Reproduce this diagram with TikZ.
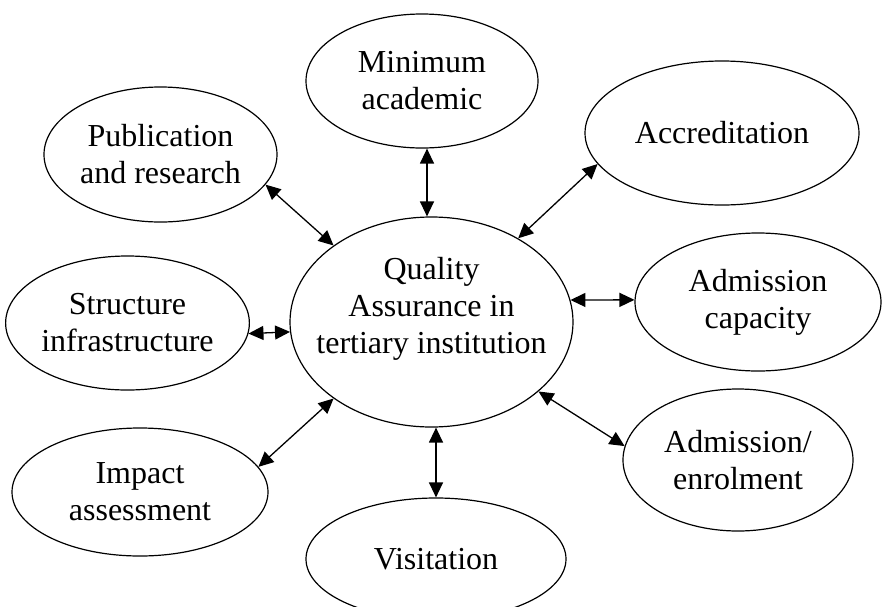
\documentclass[tikz,border=0pt]{standalone}
\usepackage{fontspec}
\setmainfont{Liberation Serif}
\usetikzlibrary{shapes.geometric,arrows.meta}
\tikzset{
  bubble/.style={ellipse, draw, line width=1.2pt, inner sep=0pt, align=center,
    font=\fontsize{32}{37}\selectfont},
  arr/.style={line width=1.3pt, {Triangle[length=15pt,width=14pt]}-{Triangle[length=15pt,width=14pt]}}
}
\begin{document}
\begin{tikzpicture}[x=1pt,y=-1pt]
\useasboundingbox (0,0) rectangle (887,606);
\clip (0,0) rectangle (887,606);
\node[bubble, minimum width=283pt, minimum height=210pt,
  label={[align=center, font=\fontsize{32}{37}\selectfont, yshift=13pt]center:Quality\\Assurance in\\tertiary institution}]
  (qa) at (431.5,322) {};
\node[bubble, minimum width=232pt, minimum height=134pt] (min) at (422,81) {Minimum\\academic};
\node[bubble, minimum width=274pt, minimum height=144pt] (acc) at (722,133) {Accreditation};
\node[bubble, minimum width=233pt, minimum height=135pt] (pub) at (160.5,154.5) {Publication\\and research};
\node[bubble, minimum width=233pt, minimum height=134pt] (str) at (127.5,323) {Structure\\infrastructure};
\node[bubble, minimum width=246pt, minimum height=138pt] (cap) at (758,302) {Admission\\capacity};
\node[bubble, minimum width=256pt, minimum height=128pt] (imp) at (140,492) {Impact\\assessment};
\node[bubble, minimum width=260pt, minimum height=122pt] (vis) at (436,559) {Visitation};
\node[bubble, minimum width=230pt, minimum height=142pt] (enr) at (738,460) {Admission/\\enrolment};

\draw[arr] ([xshift=5pt]min.south) -- ([xshift=-4.5pt]qa.north);
\draw[arr] (vis.north) -- (vis.north |- qa.south);
\draw[arr] (str.-5) -- (qa.184.5);
\draw[arr] (qa.9) -- (cap.179);
\draw[arr] (pub.-16) -- (qa.142);
\draw[arr] (acc.194) -- (qa.44);
\draw[arr] (imp.12.5) -- (qa.218.6);
\draw[arr] (enr.173.4) -- (qa.-33.3);
\end{tikzpicture}
\end{document}
